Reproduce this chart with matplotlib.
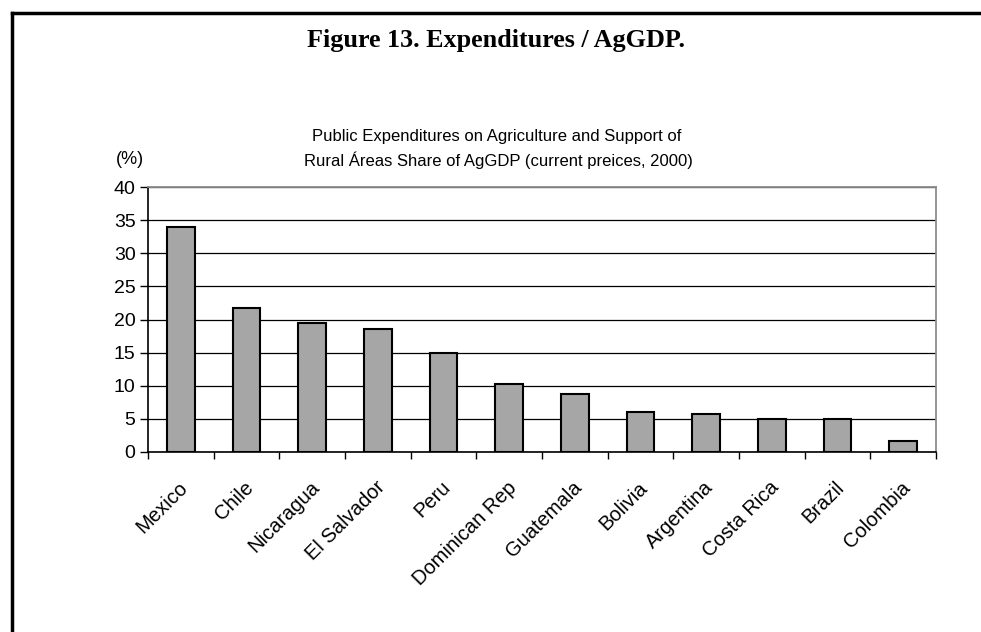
import numpy as np
import matplotlib
matplotlib.use("Agg")
import matplotlib.pyplot as plt
from matplotlib.lines import Line2D

# values
countries = ["Mexico", "Chile", "Nicaragua", "El Salvador", "Peru", "Dominican Rep",
             "Guatemala", "Bolivia", "Argentina", "Costa Rica", "Brazil", "Colombia"]
share = [33.9, 21.8, 19.5, 18.6, 14.9, 10.2, 8.7, 6.1, 5.8, 5.0, 5.0, 1.6]
yticks = [0, 5, 10, 15, 20, 25, 30, 35, 40]

plt.rcParams['font.family'] = ['Liberation Sans', 'DejaVu Sans']

fig = plt.figure(figsize=(9.81, 6.32), dpi=100)
ax = fig.add_axes([148/981, 1-452/632, (936-148)/981, (452-187)/632])

x = np.arange(len(countries))
ax.bar(x, share, width=0.42, color='#a6a6a6', edgecolor='black', linewidth=1.5, zorder=3)

ax.set_xlim(-0.5, len(countries) - 0.5)
ax.set_ylim(0, 40)
ax.set_yticks(yticks)
ax.set_yticklabels([str(t) for t in yticks], fontsize=14)
ax.yaxis.grid(True, color='black', linewidth=0.9, zorder=0)

# category boundary ticks below the axis
ax.set_xticks(np.arange(-0.5, len(countries), 1.0))
ax.set_xticklabels([])
ax.tick_params(axis='x', direction='out', length=5, width=1, color='black')
ax.tick_params(axis='y', direction='out', length=6, width=1, color='black', pad=3)
for i, name in enumerate(countries):
    ax.text(i - 0.04, -3.9, name, rotation=45, ha='right', va='top',
            rotation_mode='anchor', fontsize=14.5)

for side in ['top', 'right']:
    ax.spines[side].set_color('#8c8c8c')
    ax.spines[side].set_linewidth(1.3)
ax.spines['left'].set_linewidth(1.2)
ax.spines['bottom'].set_linewidth(1.2)

fig.text(496/981, 1-41/632, "Figure 13. Expenditures / AgGDP.", ha='center', va='center',
         fontsize=18.8, fontweight='bold', family='Liberation Serif')
fig.text(497/981, 1-136/632, "Public Expenditures on Agriculture and Support of",
         ha='center', va='center', fontsize=12)
fig.text(498/981, 1-160/632, "Rural Áreas Share of AgGDP (current preices, 2000)",
         ha='center', va='center', fontsize=12)
fig.text(130/981, 1-160/632, "(%)", ha='center', va='center', fontsize=13)

# page frame: top and left edges
fig.add_artist(Line2D([12/981, 12/981], [0, 1-13/632], color='black', linewidth=2.5,
                      transform=fig.transFigure))
fig.add_artist(Line2D([12/981, 1], [1-13/632, 1-13/632], color='black', linewidth=2.5,
                      transform=fig.transFigure))

fig.savefig("out.png", dpi=100)
